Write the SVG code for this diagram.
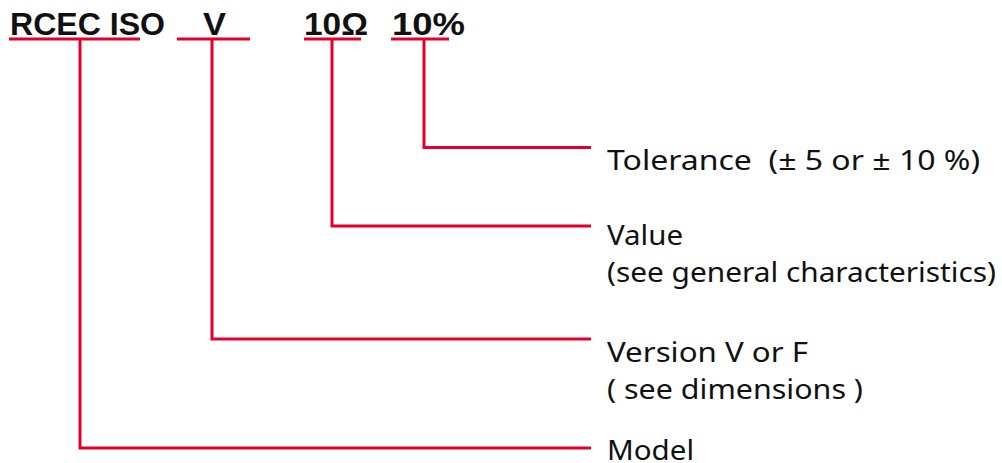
<svg xmlns="http://www.w3.org/2000/svg" width="1002" height="463" viewBox="0 0 1002 463">
<style>
.t{font-family:"Noto Sans","DejaVu Sans",sans-serif;font-size:28px;fill:#111}
.h{font-family:"Liberation Sans",Arial,sans-serif;font-size:31px;font-weight:bold;fill:#111}
.c{fill:none;stroke:#e0002a;stroke-width:3}
</style>
<rect width="1002" height="463" fill="#fff"/>
<g id="code">
<text class="h" x="10" y="35" textLength="155" lengthAdjust="spacingAndGlyphs">RCEC ISO</text>
<text class="h" x="203" y="35" textLength="23" lengthAdjust="spacingAndGlyphs">V</text>
<text class="h" x="304" y="35" textLength="64" lengthAdjust="spacingAndGlyphs">10Ω</text>
<text class="h" x="392" y="35" textLength="73" lengthAdjust="spacingAndGlyphs">10%</text>
</g>
<g id="connectors">
<path class="c" d="M9 39H140M177 39H250M304 39H361M391 39H449"/>
<path class="c" d="M424 39V147.5H591"/>
<path class="c" d="M332 39V226H591"/>
<path class="c" d="M212 39V339H591"/>
<path class="c" d="M80 39V448H591"/>
</g>
<g id="tolerance"><text class="t" x="607" y="170" xml:space="preserve" textLength="373" lengthAdjust="spacingAndGlyphs">Tolerance  (± 5 or ± 10 %)</text></g>
<g id="value"><text class="t" x="607" y="245" textLength="76" lengthAdjust="spacingAndGlyphs">Value</text><text class="t" x="607" y="282" textLength="389" lengthAdjust="spacingAndGlyphs">(see general characteristics)</text></g>
<g id="version"><text class="t" x="607" y="362" textLength="201" lengthAdjust="spacingAndGlyphs">Version V or F</text><text class="t" x="607" y="399" textLength="256" lengthAdjust="spacingAndGlyphs">( see dimensions )</text></g>
<g id="model"><text class="t" x="607" y="460" textLength="87" lengthAdjust="spacingAndGlyphs">Model</text></g>
</svg>
